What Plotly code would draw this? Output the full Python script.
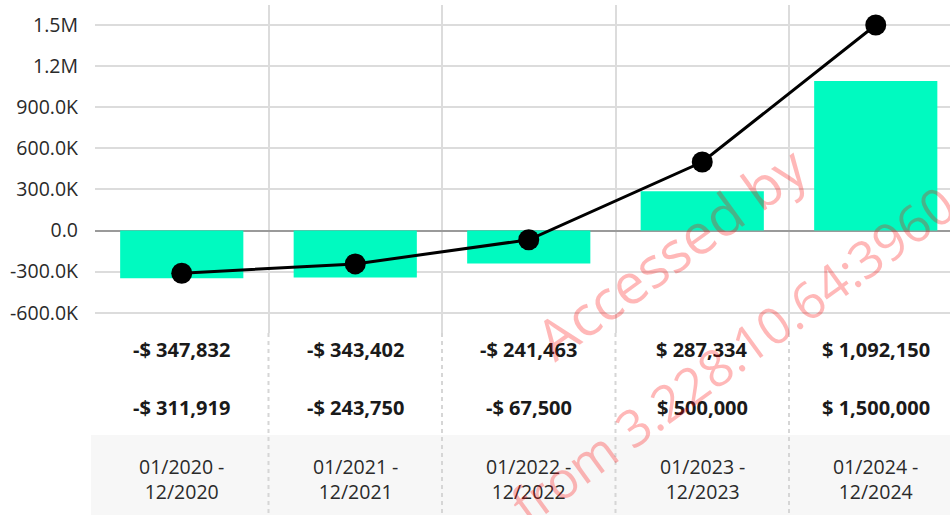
import plotly.graph_objects as go

periods = ["2020", "2021", "2022", "2023", "2024"]
bar_values = [-347832, -343402, -241463, 287334, 1092150]
line_values = [-311919, -243750, -67500, 500000, 1500000]
y_tickvals = [-600000, -300000, 0, 300000, 600000, 900000, 1200000, 1500000]
y_ticktext = ["-600.0K", "-300.0K", "0.0", "300.0K", "600.0K", "900.0K", "1.2M", "1.5M"]
watermark_lines = ["Accessed by", "from 3.228.10.64:3960"]

FONT = "Open Sans"
W, H = 950, 515
ML, MT = 95, 5
PLOT_BOTTOM = 333
plot_h = PLOT_BOTTOM - MT
cat_w = 173.5

def money(v):
    return ("-" if v < 0 else "") + "$ " + f"{abs(v):,}"

def py(pix):
    # pixel y (from top) -> paper coordinate
    return (PLOT_BOTTOM - pix) / plot_h

xs = list(range(len(periods)))
labels = [f"01/{p} -<br>12/{p}" for p in periods]

fig = go.Figure()
fig.add_trace(go.Bar(x=xs, y=bar_values, width=0.71, marker=dict(color="#00FAC0", line=dict(width=0)),
                     hoverinfo="skip"))
fig.add_trace(go.Scatter(x=xs, y=line_values, mode="lines+markers",
                         line=dict(color="#000000", width=3),
                         marker=dict(color="#000000", size=21), hoverinfo="skip"))

shapes = []
shapes.append(dict(type="rect", xref="paper", yref="paper", x0=-4 / (W - ML), x1=1.0,
                   y0=py(H + 5), y1=py(435), fillcolor="#f7f7f7", line=dict(width=0), layer="below"))
for i in range(len(periods) - 1):
    shapes.append(dict(type="line", xref="x", yref="paper", x0=i + 0.5, x1=i + 0.5,
                       y0=0, y1=py(H + 5), line=dict(color="#d6d6d6", width=2, dash="4px,4px")))

annotations = []
for i in range(len(periods)):
    annotations.append(dict(x=i, y=py(349), xref="x", yref="paper", text=money(bar_values[i]),
                            showarrow=False, font=dict(family=FONT, size=20, color="#1a1a1a", weight="bold"),
                            xanchor="center", yanchor="middle"))
    annotations.append(dict(x=i, y=py(407), xref="x", yref="paper", text=money(line_values[i]),
                            showarrow=False, font=dict(family=FONT, size=20, color="#1a1a1a", weight="bold"),
                            xanchor="center", yanchor="middle"))
    annotations.append(dict(x=i, y=py(478.5), xref="x", yref="paper", text=labels[i],
                            showarrow=False, font=dict(family=FONT, size=19.5, color="#2a2a2a"),
                            xanchor="center", yanchor="middle"))

wm_specs = [((670, 252), 56), ((732, 354), 51)]
for ((cx, cy), fs), t in zip(wm_specs, watermark_lines):
    annotations.append(dict(x=(cx - ML) / (W - ML), y=py(cy), xref="paper", yref="paper", text=t,
                            showarrow=False, textangle=-36,
                            font=dict(family=FONT, size=fs, color="rgba(255,0,0,0.28)"),
                            xanchor="center", yanchor="middle"))

fig.update_layout(
    width=W, height=H,
    margin=dict(l=ML, r=0, t=MT, b=H - PLOT_BOTTOM, pad=0),
    paper_bgcolor="white", plot_bgcolor="white",
    showlegend=False,
    font=dict(family=FONT, color="#2a2a2a"),
    xaxis=dict(range=[-0.5, -0.5 + (W - ML) / cat_w], tickvals=[i + 0.5 for i in range(len(periods))],
               showticklabels=False, showgrid=True, gridcolor="#dcdcdc", gridwidth=1.5,
               zeroline=False, showline=False, ticks=""),
    yaxis=dict(range=[-748000, 1646000], tickvals=y_tickvals, ticktext=y_ticktext,
               showgrid=True, gridcolor="#dcdcdc", gridwidth=1.5,
               zeroline=True, zerolinecolor="#9a9a9a", zerolinewidth=1.5,
               ticks="", ticklabelstandoff=16, tickfont=dict(family=FONT, size=19.5, color="#2a2a2a"),
               showline=False),
    shapes=shapes, annotations=annotations,
)

fig.write_html("out.html", config={"displayModeBar": False},
               post_script="document.body.style.margin='0';document.body.style.overflow='hidden';")
